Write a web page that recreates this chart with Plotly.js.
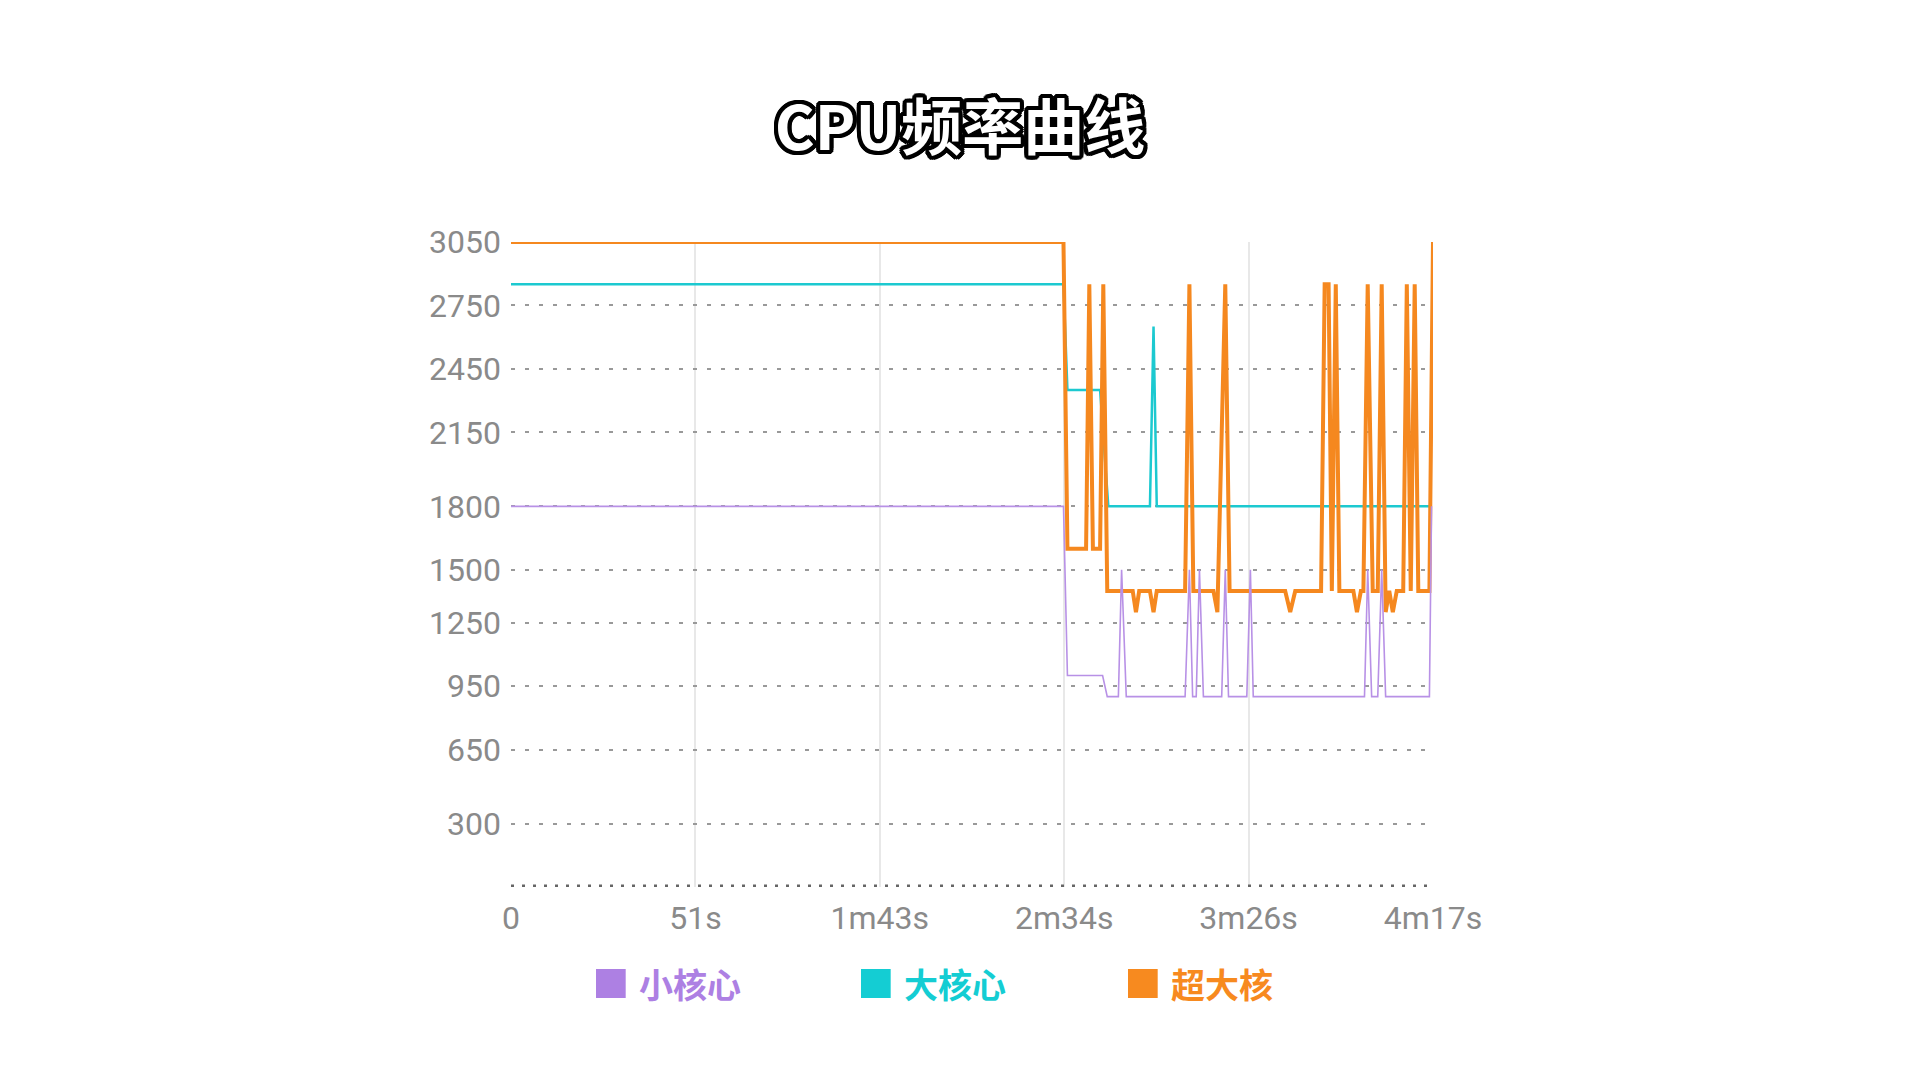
<!DOCTYPE html>
<html>
<head>
<meta charset="utf-8">
<script src="https://cdn.plot.ly/plotly-3.0.1.min.js"></script>
<style>
  html, body { margin: 0; padding: 0; background: #fff; }
  #chart { width: 1920px; height: 1080px; }
</style>
</head>
<body>
<div id="chart"></div>
<script>
// x values are seconds
let small_t = [0, 154.0, 155.1, 164.9, 166.2, 169.3, 170.2, 171.5, 187.9, 189.1, 190.0, 191.0, 191.9, 193.0,
  198.1, 199.1, 200.0, 205.1, 206.1, 206.9, 237.9, 238.8, 239.9, 241.6, 242.7, 243.8, 256.0, 256.6]
let small_f = [1800, 1800, 1000, 1000, 900, 900, 1500, 900, 900, 1500, 900, 900, 1500, 900,
  900, 1500, 900, 900, 1500, 900, 900, 1500, 900, 900, 1500, 900, 900, 1800]

let big_t = [0, 154.0, 155.1, 164.2, 166.5, 178.1, 179.1, 180.0, 256.0]
let big_f = [2850, 2850, 2350, 2350, 1800, 1800, 2650, 1800, 1800]

let prime_t = [0, 154.0, 155.1, 160.3, 161.2, 162.2, 164.2, 165.1, 166.2, 173.3, 174.2, 175.1, 178.1, 179.1, 180.0,
  187.9, 189.1, 190.2, 195.8, 196.9, 199.1, 200.3, 215.8, 217.2, 218.6, 225.8, 226.8, 227.9, 228.8, 229.9, 230.9,
  234.8, 235.8, 236.9, 237.6, 238.8, 240.2, 241.6, 242.7, 243.8, 244.8, 245.8, 246.9, 248.7, 249.7, 250.8, 251.9,
  252.9, 256.0, 257]
let prime_f = [3050, 3050, 1600, 1600, 2850, 1600, 1600, 2850, 1400, 1400, 1300, 1400, 1400, 1300, 1400,
  1400, 2850, 1400, 1400, 1300, 2850, 1400, 1400, 1300, 1400, 1400, 2850, 2850, 1400, 2850, 1400,
  1400, 1300, 1400, 1400, 2850, 1400, 1400, 2850, 1300, 1400, 1300, 1400, 1400, 2850, 1400, 2850,
  1400, 1400, 3050]

let series_names = ['小核心', '大核心', '超大核']
let series_colors = ['#ad80e3', '#14cdd3', '#f78a1f']

let x_tickvals = [0, 51.4, 102.8, 154.2, 205.6, 257]
let x_ticktext = ['0', '51s', '1m43s', '2m34s', '3m26s', '4m17s']
let y_tickvals = [300, 650, 950, 1250, 1500, 1800, 2150, 2450, 2750, 3050]

let trace_big = {
  x: big_t, y: big_f, mode: 'lines', name: series_names[1],
  line: {color: '#1cc9d0', width: 2.5}, cliponaxis: false, showlegend: false
}
let trace_prime = {
  x: prime_t, y: prime_f, mode: 'lines', name: series_names[2],
  line: {color: '#f5881f', width: 4}, cliponaxis: false, showlegend: false
}
let trace_small = {
  x: small_t, y: small_f, mode: 'lines', name: series_names[0],
  line: {color: '#b891e6', width: 1.6}, cliponaxis: false, showlegend: false
}

// legend: coloured blocks + coloured labels under the plot
let legend_x = [0.0922, 0.3796, 0.6692]
let shapes = [{
  type: 'line', xref: 'paper', yref: 'y', x0: 0, x1: 0.998, y0: 0, y1: 0,
  line: {color: '#666666', width: 5, dash: '3px,8px'}
}]
let annotations = []
for (let i = 0; i < series_names.length; i++) {
  shapes.push({
    type: 'rect', xref: 'paper', yref: 'paper',
    x0: legend_x[i], x1: legend_x[i] + 0.0322, y0: -0.1721, y1: -0.1271,
    fillcolor: series_colors[i], line: {width: 0}
  })
  annotations.push({
    xref: 'paper', yref: 'paper', x: legend_x[i] + 0.044, y: -0.1496,
    xanchor: 'left', yanchor: 'middle', showarrow: false,
    text: '<b>' + series_names[i] + '</b>',
    font: {family: '"Noto Sans CJK SC", sans-serif', size: 34, color: series_colors[i]}
  })
}

let layout = {
  width: 1920, height: 1080,
  paper_bgcolor: '#ffffff', plot_bgcolor: '#ffffff',
  margin: {l: 511, r: 487, t: 242, b: 193},
  title: {
    text: '<b>CPU频率曲线</b>',
    xref: 'container', yref: 'container', x: 0.5, y: 0.881,
    xanchor: 'center', yanchor: 'middle',
    font: {
      family: '"Noto Sans CJK SC", sans-serif', size: 61, color: '#ffffff',
      shadow: '4px 0 #000, -4px 0 #000, 0 4px #000, 0 -4px #000, 3px 3px #000, -3px -3px #000, 3px -3px #000, -3px 3px #000, 4px 2px #000, -4px 2px #000, 4px -2px #000, -4px -2px #000, 2px 4px #000, -2px 4px #000, 2px -4px #000, -2px -4px #000'
    }
  },
  xaxis: {
    range: [0, 257], tickmode: 'array', tickvals: x_tickvals, ticktext: x_ticktext,
    showgrid: true, gridcolor: '#e8e8e8', gridwidth: 2, zeroline: false, showline: false,
    ticks: '', ticklabelstandoff: 9,
    tickfont: {family: 'Roboto, "Noto Sans", sans-serif', size: 32, color: '#8a8a8a'}
  },
  yaxis: {
    range: [0, 3050], tickmode: 'array', tickvals: y_tickvals,
    showgrid: true, gridcolor: '#999999', gridwidth: 2, griddash: '4px,10px',
    zeroline: false, showline: false, ticks: '', ticklabelstandoff: 9,
    tickfont: {family: 'Roboto, "Noto Sans", sans-serif', size: 32, color: '#8a8a8a'}
  },
  shapes: shapes,
  annotations: annotations,
  showlegend: false
}

Plotly.newPlot('chart', [trace_big, trace_prime, trace_small], layout, {displayModeBar: false, staticPlot: true})
</script>
</body>
</html>
